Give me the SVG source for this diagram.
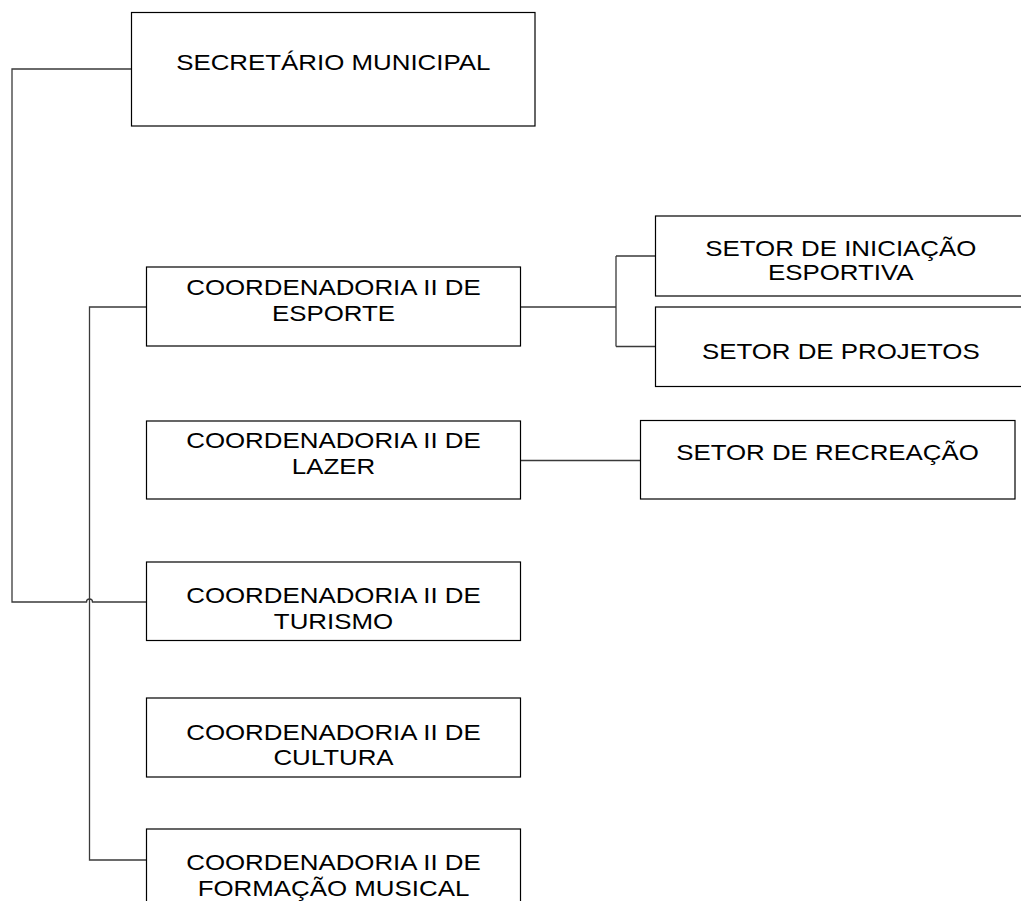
<svg xmlns="http://www.w3.org/2000/svg" width="1021" height="901" viewBox="0 0 1021 901">
<style>
.box{fill:#fff;stroke:#000;stroke-width:1.2}
.t{font-family:"Liberation Sans",Arial,sans-serif;font-size:22.5px;fill:#000;text-anchor:middle}
.c{fill:none;stroke:#3a3a3a;stroke-width:1.3}
</style>
<rect width="1021" height="901" fill="#fff"/>
<g id="connectors">
<path class="c" d="M131.5,69 H12 V602 H86.5 A3,3 0 0 1 92.5,602 H146.5"/>
<path class="c" d="M146.5,307 H89.5 V860 H146.5"/>
<path class="c" d="M520.5,307 H616 M616,256 V346.5 M616,256 H655.5 M616,346.5 H655.5"/>
<path class="c" d="M520.5,460.5 H640.5"/>
</g>
<g id="secretario">
<rect class="box" x="131.5" y="12.5" width="403.5" height="113.5"/>
<text class="t" transform="translate(333.3,0) scale(1.15,1)" x="0" y="70">SECRETÁRIO MUNICIPAL</text>
</g>
<g id="esporte">
<rect class="box" x="146.5" y="267" width="374" height="79"/>
<text class="t" transform="translate(333.5,0) scale(1.15,1)" x="0" y="295.5">COORDENADORIA II DE</text>
<text class="t" transform="translate(333.5,0) scale(1.15,1)" x="0" y="321">ESPORTE</text>
</g>
<g id="lazer">
<rect class="box" x="146.5" y="421" width="374" height="78"/>
<text class="t" transform="translate(333.5,0) scale(1.15,1)" x="0" y="448">COORDENADORIA II DE</text>
<text class="t" transform="translate(333.5,0) scale(1.15,1)" x="0" y="474">LAZER</text>
</g>
<g id="turismo">
<rect class="box" x="146.5" y="562" width="374" height="78.5"/>
<text class="t" transform="translate(333.5,0) scale(1.15,1)" x="0" y="603">COORDENADORIA II DE</text>
<text class="t" transform="translate(333.5,0) scale(1.15,1)" x="0" y="629">TURISMO</text>
</g>
<g id="cultura">
<rect class="box" x="146.5" y="698" width="374" height="79"/>
<text class="t" transform="translate(333.5,0) scale(1.15,1)" x="0" y="740">COORDENADORIA II DE</text>
<text class="t" transform="translate(333.5,0) scale(1.15,1)" x="0" y="765.5">CULTURA</text>
</g>
<g id="formacao">
<rect class="box" x="146.5" y="829" width="374" height="79"/>
<text class="t" transform="translate(333.5,0) scale(1.15,1)" x="0" y="870">COORDENADORIA II DE</text>
<text class="t" transform="translate(333.5,0) scale(1.15,1)" x="0" y="896">FORMAÇÃO MUSICAL</text>
</g>
<g id="iniciacao">
<rect class="box" x="655.5" y="216" width="371" height="80"/>
<text class="t" transform="translate(840.8,0) scale(1.15,1)" x="0" y="256">SETOR DE INICIAÇÃO</text>
<text class="t" transform="translate(840.8,0) scale(1.15,1)" x="0" y="280.5">ESPORTIVA</text>
</g>
<g id="projetos">
<rect class="box" x="655.5" y="307" width="371" height="79.5"/>
<text class="t" transform="translate(840.8,0) scale(1.15,1)" x="0" y="359">SETOR DE PROJETOS</text>
</g>
<g id="recreacao">
<rect class="box" x="640.5" y="420.5" width="374.5" height="78.5"/>
<text class="t" transform="translate(827.5,0) scale(1.15,1)" x="0" y="460">SETOR DE RECREAÇÃO</text>
</g>
</svg>
